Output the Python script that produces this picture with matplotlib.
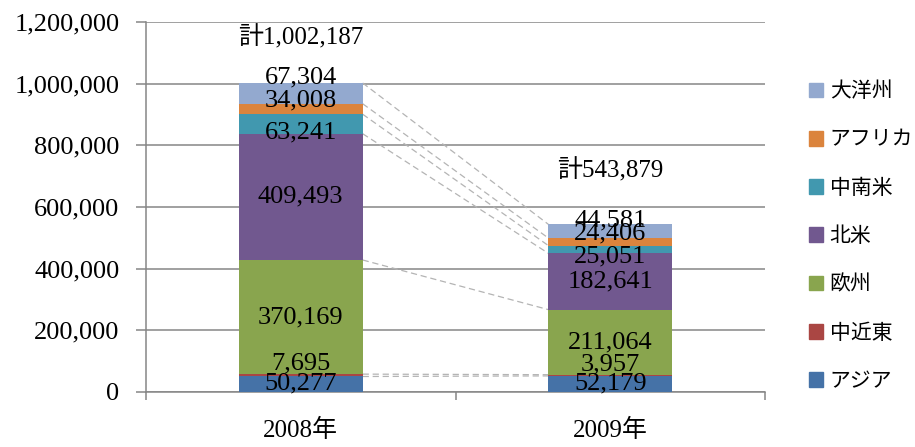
import matplotlib
matplotlib.use('Agg')
import matplotlib.pyplot as plt
import numpy as np
from matplotlib.patches import Patch

# data
years = ['2008年', '2009年']
regions = ['アジア', '中近東', '欧州', '北米', '中南米', 'アフリカ', '大洋州']
values_2008 = [50277, 7695, 370169, 409493, 63241, 34008, 67304]
values_2009 = [52179, 3957, 211064, 182641, 25051, 24406, 44581]
totals = ['計1,002,187', '計543,879']

colors = ['#4572A7', '#AA4643', '#89A54E', '#71588F', '#4198AF', '#DB843D', '#93A9CF']
# manual label nudges (pixels, upward) as in the original chart
nudge_2008 = [1, 12, 0, 0, -8, 9, 16]
nudge_2009 = [1, 11, 0, 0, -7, 8, 11]
total_offset = [46, 54]

serif = ['Liberation Serif', 'Noto Sans CJK JP']
gray = '#868686'

fig = plt.figure(figsize=(9.15, 4.47), dpi=100)
ax = fig.add_axes([146 / 915, 1 - 392 / 447, (765 - 146) / 915, (392 - 22) / 447])

data = np.array([values_2008, values_2009])
x = np.arange(len(years))
width = 0.40
bottoms = np.zeros(len(years))
for i, region in enumerate(regions):
    ax.bar(x, data[:, i], width, bottom=bottoms, color=colors[i], label=region, zorder=3)
    bottoms = bottoms + data[:, i]

# series lines between the two bars
tops = np.cumsum(data, axis=1)
for i in range(len(regions)):
    ax.plot([x[0] + width / 2, x[1] - width / 2], [tops[0, i], tops[1, i]],
            color='#B4B4B4', lw=0.9, ls=(0, (5, 3)), zorder=2)

# data labels
nudges = [nudge_2008, nudge_2009]
for j in range(len(years)):
    starts = tops[j] - data[j]
    for i in range(len(regions)):
        ax.annotate(f'{data[j, i]:,}', xy=(x[j], starts[i] + data[j, i] / 2),
                    xytext=(0, nudges[j][i]), textcoords='offset pixels',
                    ha='center', va='center', fontsize=19, family=serif, zorder=5)
    ax.annotate(totals[j], xy=(x[j], tops[j, -1]), xytext=(0, total_offset[j]),
                textcoords='offset pixels', ha='center', va='center',
                fontsize=18, family=serif)

ax.set_ylim(0, 1200000)
ax.set_yticks(np.arange(0, 1200001, 200000))
ax.set_yticklabels([f'{v:,}' for v in range(0, 1200001, 200000)], family=serif, fontsize=19)
ax.yaxis.grid(True, color=gray, lw=1.1, zorder=0)
ax.tick_params(axis='y', length=7, color=gray, width=1.1, pad=12)

ax.set_xlim(-0.5, 1.5)
ax.set_xticks([-0.5, 0.5, 1.5])
ax.set_xticklabels([])
ax.set_xticks(x, minor=True)
ax.set_xticklabels(years, minor=True, family=serif, fontsize=18)
ax.tick_params(axis='x', which='major', length=6, color=gray, width=1.1)
ax.tick_params(axis='x', which='minor', length=0, pad=19)

for s in ['top', 'right']:
    ax.spines[s].set_visible(False)
for s in ['left', 'bottom']:
    ax.spines[s].set_color(gray)
    ax.spines[s].set_linewidth(1.1)

handles = [Patch(color=c) for c in colors][::-1]
fig.legend(handles, regions[::-1], loc='center left', bbox_to_anchor=(0.884, 0.472),
           frameon=False, borderaxespad=0, borderpad=0, handlelength=0.7,
           handleheight=0.7, handletextpad=0.3, labelspacing=1.26,
           prop={'family': 'Noto Sans CJK JP', 'size': 15})

fig.savefig('out.png', dpi=100)
